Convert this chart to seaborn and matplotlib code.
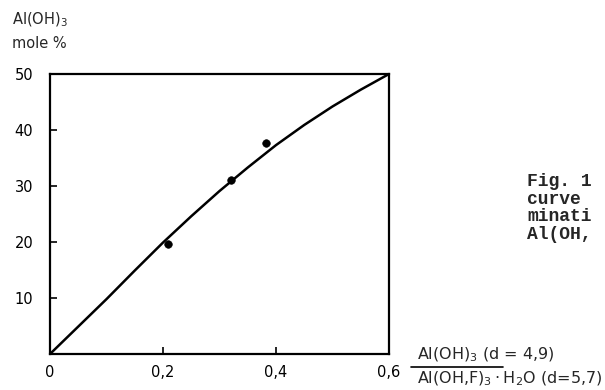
import matplotlib
matplotlib.use("Agg")
import matplotlib.pyplot as plt
import seaborn as sns
import pandas as pd

# Data
curve_x = [0.0, 0.05, 0.1, 0.15, 0.2, 0.25, 0.3, 0.35, 0.4, 0.45, 0.5, 0.55, 0.6]
curve_y = [0.0, 4.9, 9.8, 14.9, 19.9, 24.6, 29.1, 33.3, 37.3, 40.9, 44.2, 47.2, 50.0]
pts_x = [0.209, 0.320, 0.382]
pts_y = [19.6, 31.1, 37.7]
xticks = [0, 0.2, 0.4, 0.6]
xticklabels = ["0", "0,2", "0,4", "0,6"]
yticks = [10, 20, 30, 40, 50]
yticklabels = ["10", "20", "30", "40", "50"]
caption_lines = ["Fig. 1", "curve", "minati", "Al(OH,"]

sns.set_style("ticks")
plt.rcParams['font.family'] = ['DejaVu Sans']

W, H = 605, 390
fig = plt.figure(figsize=(6.05, 3.9), dpi=100)
ax = fig.add_axes([50/W, 1-354/H, (389-50)/W, (354-74)/H])

curve = pd.DataFrame({"x": curve_x, "y": curve_y})
pts = pd.DataFrame({"x": pts_x, "y": pts_y})
sns.lineplot(data=curve, x="x", y="y", ax=ax, color="black", lw=1.8)
sns.scatterplot(data=pts, x="x", y="y", ax=ax, color="black", s=30, edgecolor="black")

ax.set_xlim(0, 0.6)
ax.set_ylim(0, 50)
ax.set_xticks(xticks)
ax.set_xticklabels(xticklabels)
ax.set_yticks(yticks)
ax.set_yticklabels(yticklabels)
ax.tick_params(direction="in", length=5, width=1.2, labelsize=10.5, colors="black")
ax.tick_params(axis="y", pad=12)
ax.tick_params(axis="x", pad=8)
for s in ax.spines.values():
    s.set_linewidth(1.6)
    s.set_color("black")
ax.set_xlabel("")
ax.set_ylabel("")

fig.text(12/W, 1-20/H, r"Al(OH)$_3$", fontsize=10.5, va="center", ha="left")
fig.text(12/W, 1-43/H, "mole %", fontsize=10.5, va="center", ha="left")

fig.text(417/W, 1-364/H, r"Al(OH)$_3$ (d = 4,9)", fontsize=11.5, ha="left", va="bottom")
fig.text(417/W, 1-370/H, r"Al(OH,F)$_3\cdot$H$_2$O (d=5,7)", fontsize=11.5, ha="left", va="top")
fig.lines.append(plt.Line2D([411/W, 503/W], [1-367/H, 1-367/H], transform=fig.transFigure,
                            color="black", lw=1.2))

for i, line in enumerate(caption_lines):
    fig.text(527/W, 1-(186 + 17.5*i)/H, line, family="Liberation Mono",
             fontsize=13, fontweight="bold", va="baseline", ha="left")

fig.savefig("out.png", dpi=100)
